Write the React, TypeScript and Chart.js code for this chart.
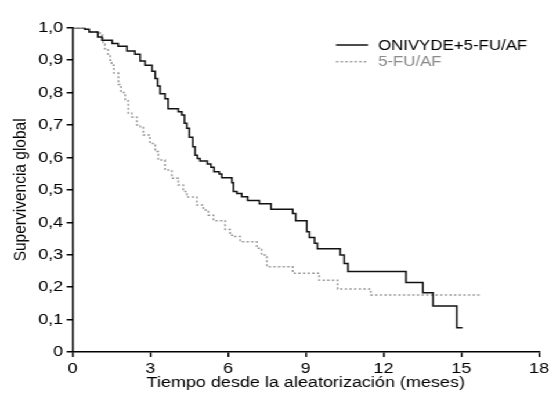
import React, { useEffect, useRef } from 'react';
import { Chart, registerables } from 'chart.js';

Chart.register(...registerables);

// ---- Data ----
const seriesLabels = ['ONIVYDE+5-FU/AF', '5-FU/AF'];

const onivydeTimes = [0, 0.48, 0.64, 0.98, 1.14, 1.53, 1.76, 2.10, 2.41, 2.61, 2.80, 3.07, 3.19, 3.28, 3.38, 3.57, 3.69, 4.08, 4.22, 4.32, 4.41, 4.51, 4.64, 4.73, 4.82, 4.92, 5.20, 5.34, 5.46, 5.66, 5.76, 6.15, 6.21, 6.34, 6.53, 6.76, 7.21, 7.66, 8.50, 8.61, 9.04, 9.14, 9.34, 9.45, 10.33, 10.48, 10.63, 12.87, 13.52, 13.91, 14.83, 15.05];
const onivydeSurv = [1.0, 0.995, 0.987, 0.971, 0.961, 0.951, 0.943, 0.928, 0.918, 0.897, 0.884, 0.866, 0.843, 0.82, 0.796, 0.781, 0.750, 0.741, 0.731, 0.705, 0.690, 0.662, 0.633, 0.607, 0.597, 0.589, 0.580, 0.570, 0.556, 0.549, 0.537, 0.522, 0.495, 0.489, 0.479, 0.467, 0.457, 0.440, 0.427, 0.405, 0.371, 0.353, 0.335, 0.318, 0.299, 0.273, 0.248, 0.214, 0.183, 0.142, 0.075, 0.075];

const fuTimes = [0, 0.48, 0.64, 1.06, 1.18, 1.25, 1.37, 1.45, 1.51, 1.60, 1.77, 1.87, 2.03, 2.15, 2.29, 2.48, 2.61, 2.73, 2.99, 3.19, 3.31, 3.57, 3.83, 4.08, 4.27, 4.41, 4.80, 5.05, 5.24, 5.44, 5.89, 6.08, 6.21, 6.47, 7.11, 7.30, 7.50, 8.50, 9.52, 10.23, 11.51, 15.73];
const fuSurv = [1.0, 0.995, 0.987, 0.977, 0.95, 0.935, 0.915, 0.900, 0.884, 0.86, 0.825, 0.80, 0.775, 0.736, 0.725, 0.700, 0.692, 0.669, 0.643, 0.618, 0.592, 0.561, 0.536, 0.515, 0.495, 0.478, 0.453, 0.438, 0.422, 0.405, 0.378, 0.360, 0.356, 0.340, 0.320, 0.299, 0.263, 0.243, 0.221, 0.194, 0.176, 0.176];

const xTicksMin = 0;
const xTicksMax = 18;
const xTickStep = 3;
const yTickStep = 0.1;

const xTitle = 'Tiempo desde la aleatorización (meses)';
const yTitle = 'Supervivencia global';

// ---- Layout (the reference is horizontally stretched) ----
const W = 549;
const H = 397;
const IW = 473;
const SX = W / IW;
const FONT = '"Liberation Sans", Arial, Helvetica, sans-serif';

const toPoints = (xs: number[], ys: number[]) => xs.map((x, i) => ({ x, y: ys[i] }));

const legendColors = ['#000000', '#8a8a8a'];

const legendPlugin = {
  id: 'kmLegend',
  afterDraw(chart: any) {
    const ctx = chart.ctx as CanvasRenderingContext2D;
    ctx.save();
    const x1 = 336 / SX;
    const x2 = 368 / SX;
    const tx = 378 / SX;
    chart.data.datasets.forEach((ds: any, i: number) => {
      const y = 45 + i * 16.7;
      ctx.beginPath();
      ctx.setLineDash(ds.borderDash || []);
      ctx.strokeStyle = ds.borderColor;
      ctx.lineWidth = ds.borderWidth;
      ctx.moveTo(x1, y);
      ctx.lineTo(x2, y);
      ctx.stroke();
      ctx.setLineDash([]);
      ctx.fillStyle = legendColors[i];
      ctx.font = `14.5px ${FONT}`;
      ctx.textBaseline = 'middle';
      ctx.textAlign = 'left';
      ctx.fillText(ds.label, tx, y + 0.5);
    });
    ctx.restore();
  },
};

export default function App() {
  const ref = useRef<HTMLCanvasElement | null>(null);

  useEffect(() => {
    if (!ref.current) return;
    const font = { family: FONT, size: 15.5 };
    const chart = new Chart(ref.current, {
      type: 'line',
      data: {
        datasets: [
          {
            label: seriesLabels[0],
            data: toPoints(onivydeTimes, onivydeSurv),
            borderColor: '#111111',
            borderWidth: 1.5,
            stepped: 'before',
            pointRadius: 0,
            fill: false,
          },
          {
            label: seriesLabels[1],
            data: toPoints(fuTimes, fuSurv),
            borderColor: '#9a9a9a',
            borderWidth: 1.5,
            borderDash: [2, 2],
            stepped: 'before',
            pointRadius: 0,
            fill: false,
          },
        ],
      },
      options: {
        animation: false,
        responsive: false,
        devicePixelRatio: 1,
        layout: { padding: { left: 0, right: IW - 539 / SX, top: 27.7, bottom: 0 } },
        plugins: { legend: { display: false }, tooltip: { enabled: false } },
        elements: { point: { radius: 0 }, line: { tension: 0 } },
        scales: {
          x: {
            type: 'linear',
            min: xTicksMin,
            max: xTicksMax,
            ticks: {
              stepSize: xTickStep,
              font,
              color: '#000',
              padding: 2,
              maxRotation: 0,
              callback: (v: any) => String(v),
            },
            grid: { drawOnChartArea: false, drawTicks: true, tickLength: 5, color: '#000', lineWidth: 1.5 },
            border: { display: true, color: '#000', width: 1.5 },
            title: { display: true, text: xTitle, font, color: '#000', padding: { top: 0, bottom: 5 } },
            afterFit(s: any) {
              s.height = H - 352;
              s.paddingLeft = 0;
              s.paddingRight = 0;
            },
          },
          y: {
            type: 'linear',
            min: 0,
            max: 1,
            ticks: {
              stepSize: yTickStep,
              font,
              color: '#000',
              padding: 3,
              callback: (v: any) => (Math.abs(v) < 1e-9 ? '0' : Number(v).toFixed(1).replace('.', ',')),
            },
            grid: { drawOnChartArea: false, drawTicks: true, tickLength: 5, color: '#000', lineWidth: 1.5 },
            border: { display: true, color: '#000', width: 1.5 },
            title: { display: true, text: yTitle, font, color: '#000', padding: { top: 8, bottom: 0 } },
            afterFit(s: any) {
              s.width = 72.5 / SX;
              s.paddingTop = 0;
              s.paddingBottom = 0;
            },
          },
        },
      } as any,
      plugins: [legendPlugin],
    });
    return () => chart.destroy();
  }, []);

  return (
    <div
      style={{
        position: 'fixed',
        left: 0,
        top: 0,
        width: IW,
        height: H,
        transform: `scaleX(${SX})`,
        transformOrigin: '0 0',
        background: '#fff',
      }}
    >
      <canvas ref={ref} width={IW} height={H} style={{ width: IW, height: H, display: 'block' }} />
    </div>
  );
}
